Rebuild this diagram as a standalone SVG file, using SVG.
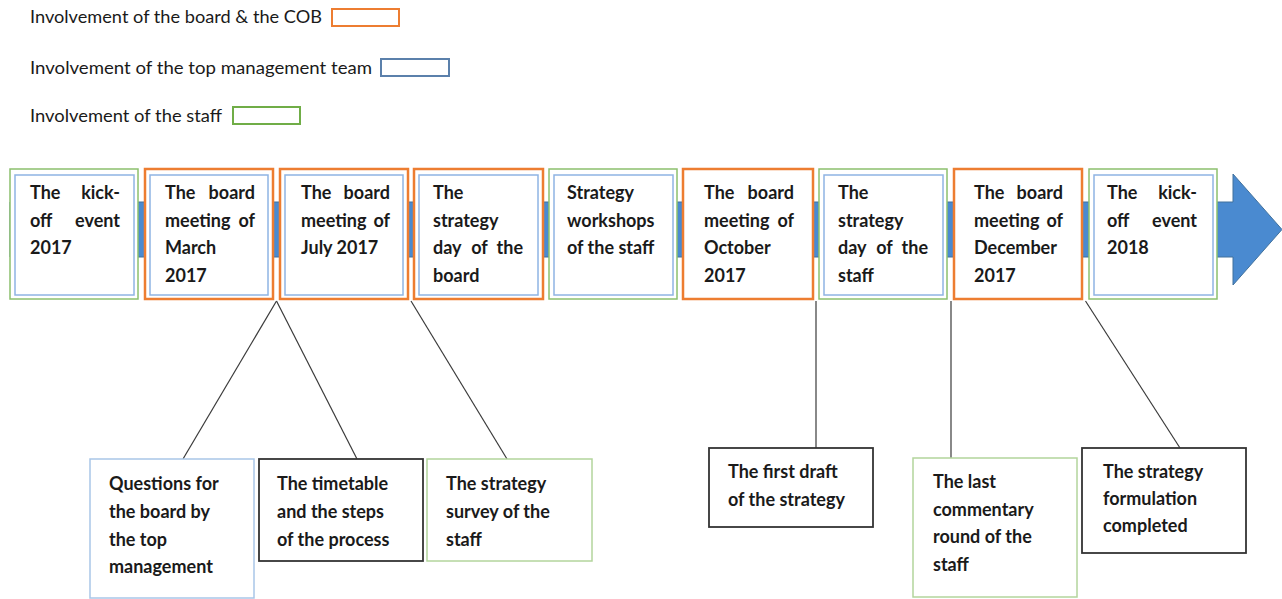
<svg xmlns="http://www.w3.org/2000/svg" width="1282" height="599" viewBox="0 0 1282 599">
  <style>
    .bg { fill: #ffffff; }
    .lbl { font-family: Lato, "Open Sans", "Liberation Sans", sans-serif; font-size: 17.5px; fill: #1a1a1a; }
    .t { font-family: Lato, "Open Sans", "Liberation Sans", sans-serif; font-size: 18px; font-weight: bold; fill: #1a1a1a; }
    .board { fill: #ffffff; stroke: #ed7d31; stroke-width: 2.5; }
    .staff { fill: #ffffff; stroke: #8cc06e; stroke-width: 1.5; }
    .top { fill: #ffffff; stroke: #8fb4e3; stroke-width: 1.5; }
    .leg-board { fill: #ffffff; stroke: #ed7d31; stroke-width: 2; }
    .leg-top { fill: #ffffff; stroke: #5b80ab; stroke-width: 2; }
    .leg-staff { fill: #ffffff; stroke: #70ad47; stroke-width: 2; }
    .note-top { fill: #ffffff; stroke: #a9c6e8; stroke-width: 1.5; }
    .note-staff { fill: #ffffff; stroke: #b3d59c; stroke-width: 1.5; }
    .note-plain { fill: #ffffff; stroke: #333333; stroke-width: 1.8; }
    .link { stroke: #3a3a3a; stroke-width: 1.2; fill: none; }
    .e { text-anchor: end; }
    .m { text-anchor: middle; }
  </style>

  <rect class="bg" x="0" y="0" width="1282" height="599"/>

  <!-- legend -->
  <g id="legend">
    <text class="lbl" x="30" y="23" textLength="292" lengthAdjust="spacingAndGlyphs">Involvement of the board &amp; the COB</text>
    <rect class="leg-board" x="332" y="9" width="67" height="17"/>
    <text class="lbl" x="30" y="74" textLength="342" lengthAdjust="spacingAndGlyphs">Involvement of the top management team</text>
    <rect class="leg-top" x="381" y="59" width="68" height="17"/>
    <text class="lbl" x="30" y="122" textLength="192" lengthAdjust="spacingAndGlyphs">Involvement of the staff</text>
    <rect class="leg-staff" x="233" y="107" width="67" height="17"/>
  </g>

  <!-- timeline arrow running behind the stages -->
  <g id="connectors">
    <polygon points="10,202 1233,202 1233,174 1282,229.5 1233,285 1233,257 10,257" fill="#4a8ad0" stroke="#41719c" stroke-width="1"/>
  </g>

  <!-- stages -->
  <g id="stage-kickoff-2017">
    <rect class="staff" x="10" y="169" width="128" height="130"/>
    <rect class="top" x="15" y="175" width="119" height="120"/>
    <text class="t" x="30" y="199">The</text><text class="t e" x="120" y="199">kick-</text>
    <text class="t" x="30" y="226.5">off</text><text class="t e" x="120" y="226.5">event</text>
    <text class="t" x="30" y="254">2017</text>
  </g>

  <g id="stage-board-march">
    <rect class="board" x="145" y="169" width="128" height="130"/>
    <rect class="top" x="150" y="175" width="118" height="120"/>
    <text class="t" x="165" y="199">The</text><text class="t e" x="255" y="199">board</text>
    <text class="t" x="165" y="226.5">meeting</text><text class="t e" x="255" y="226.5">of</text>
    <text class="t" x="165" y="254">March</text>
    <text class="t" x="165" y="281.5">2017</text>
  </g>

  <g id="stage-board-july">
    <rect class="board" x="280" y="169" width="128" height="130"/>
    <rect class="top" x="285" y="175" width="118" height="120"/>
    <text class="t" x="301" y="199">The</text><text class="t e" x="390" y="199">board</text>
    <text class="t" x="301" y="226.5">meeting</text><text class="t e" x="390" y="226.5">of</text>
    <text class="t" x="301" y="254">July 2017</text>
  </g>

  <g id="stage-board-strategy-day">
    <rect class="board" x="414" y="169" width="129" height="130"/>
    <rect class="top" x="419" y="175" width="119" height="120"/>
    <text class="t" x="433" y="199">The</text>
    <text class="t" x="433" y="226.5">strategy</text>
    <text class="t" x="433" y="254">day</text><text class="t m" x="479.5" y="254">of</text><text class="t e" x="523" y="254">the</text>
    <text class="t" x="433" y="281.5">board</text>
  </g>

  <g id="stage-staff-workshops">
    <rect class="staff" x="549" y="169" width="128" height="130"/>
    <rect class="top" x="554" y="175" width="119" height="120"/>
    <text class="t" x="567" y="199">Strategy</text>
    <text class="t" x="567" y="226.5">workshops</text>
    <text class="t" x="567" y="254">of the staff</text>
  </g>

  <g id="stage-board-october">
    <rect class="board" x="683" y="169" width="130" height="130"/>
    <text class="t" x="704" y="199">The</text><text class="t e" x="794" y="199">board</text>
    <text class="t" x="704" y="226.5">meeting</text><text class="t e" x="794" y="226.5">of</text>
    <text class="t" x="704" y="254">October</text>
    <text class="t" x="704" y="281.5">2017</text>
  </g>

  <g id="stage-staff-strategy-day">
    <rect class="staff" x="819" y="169" width="128" height="130"/>
    <rect class="top" x="824" y="175" width="119" height="120"/>
    <text class="t" x="838" y="199">The</text>
    <text class="t" x="838" y="226.5">strategy</text>
    <text class="t" x="838" y="254">day</text><text class="t m" x="884.5" y="254">of</text><text class="t e" x="928" y="254">the</text>
    <text class="t" x="838" y="281.5">staff</text>
  </g>

  <g id="stage-board-december">
    <rect class="board" x="954" y="169" width="128" height="130"/>
    <text class="t" x="974" y="199">The</text><text class="t e" x="1063" y="199">board</text>
    <text class="t" x="974" y="226.5">meeting</text><text class="t e" x="1063" y="226.5">of</text>
    <text class="t" x="974" y="254">December</text>
    <text class="t" x="974" y="281.5">2017</text>
  </g>

  <g id="stage-kickoff-2018">
    <rect class="staff" x="1089" y="169" width="128" height="130"/>
    <rect class="top" x="1094" y="175" width="119" height="120"/>
    <text class="t" x="1107" y="199">The</text><text class="t e" x="1197" y="199">kick-</text>
    <text class="t" x="1107" y="226.5">off</text><text class="t e" x="1197" y="226.5">event</text>
    <text class="t" x="1107" y="254">2018</text>
  </g>

  <!-- lines from the stages down to their notes -->
  <g id="links">
    <line class="link" x1="276.5" y1="301" x2="183" y2="459"/>
    <line class="link" x1="276.5" y1="301" x2="357" y2="459"/>
    <line class="link" x1="411" y1="301" x2="507" y2="459"/>
    <line class="link" x1="816" y1="301" x2="816" y2="448"/>
    <line class="link" x1="951" y1="301" x2="951" y2="458"/>
    <line class="link" x1="1085.5" y1="301" x2="1180" y2="448"/>
  </g>

  <!-- notes -->
  <g id="note-questions">
    <rect class="note-top" x="90" y="459" width="164" height="139"/>
    <text class="t" x="109" y="490">Questions for</text>
    <text class="t" x="109" y="518">the board by</text>
    <text class="t" x="109" y="546">the top</text>
    <text class="t" x="109" y="573">management</text>
  </g>

  <g id="note-timetable">
    <rect class="note-plain" x="259" y="459" width="164" height="102"/>
    <text class="t" x="277" y="490">The timetable</text>
    <text class="t" x="277" y="518">and the steps</text>
    <text class="t" x="277" y="546">of the process</text>
  </g>

  <g id="note-survey">
    <rect class="note-staff" x="427" y="459" width="165" height="102"/>
    <text class="t" x="446" y="490">The strategy</text>
    <text class="t" x="446" y="518">survey of the</text>
    <text class="t" x="446" y="546">staff</text>
  </g>

  <g id="note-first-draft">
    <rect class="note-plain" x="709" y="448" width="164" height="79"/>
    <text class="t" x="728" y="478">The first draft</text>
    <text class="t" x="728" y="505.5">of the strategy</text>
  </g>

  <g id="note-commentary">
    <rect class="note-staff" x="913" y="458" width="164" height="139"/>
    <text class="t" x="933" y="488">The last</text>
    <text class="t" x="933" y="515.5">commentary</text>
    <text class="t" x="933" y="543">round of the</text>
    <text class="t" x="933" y="570.5">staff</text>
  </g>

  <g id="note-completed">
    <rect class="note-plain" x="1082" y="448" width="164" height="105"/>
    <text class="t" x="1103" y="478">The strategy</text>
    <text class="t" x="1103" y="505">formulation</text>
    <text class="t" x="1103" y="532">completed</text>
  </g>
</svg>
